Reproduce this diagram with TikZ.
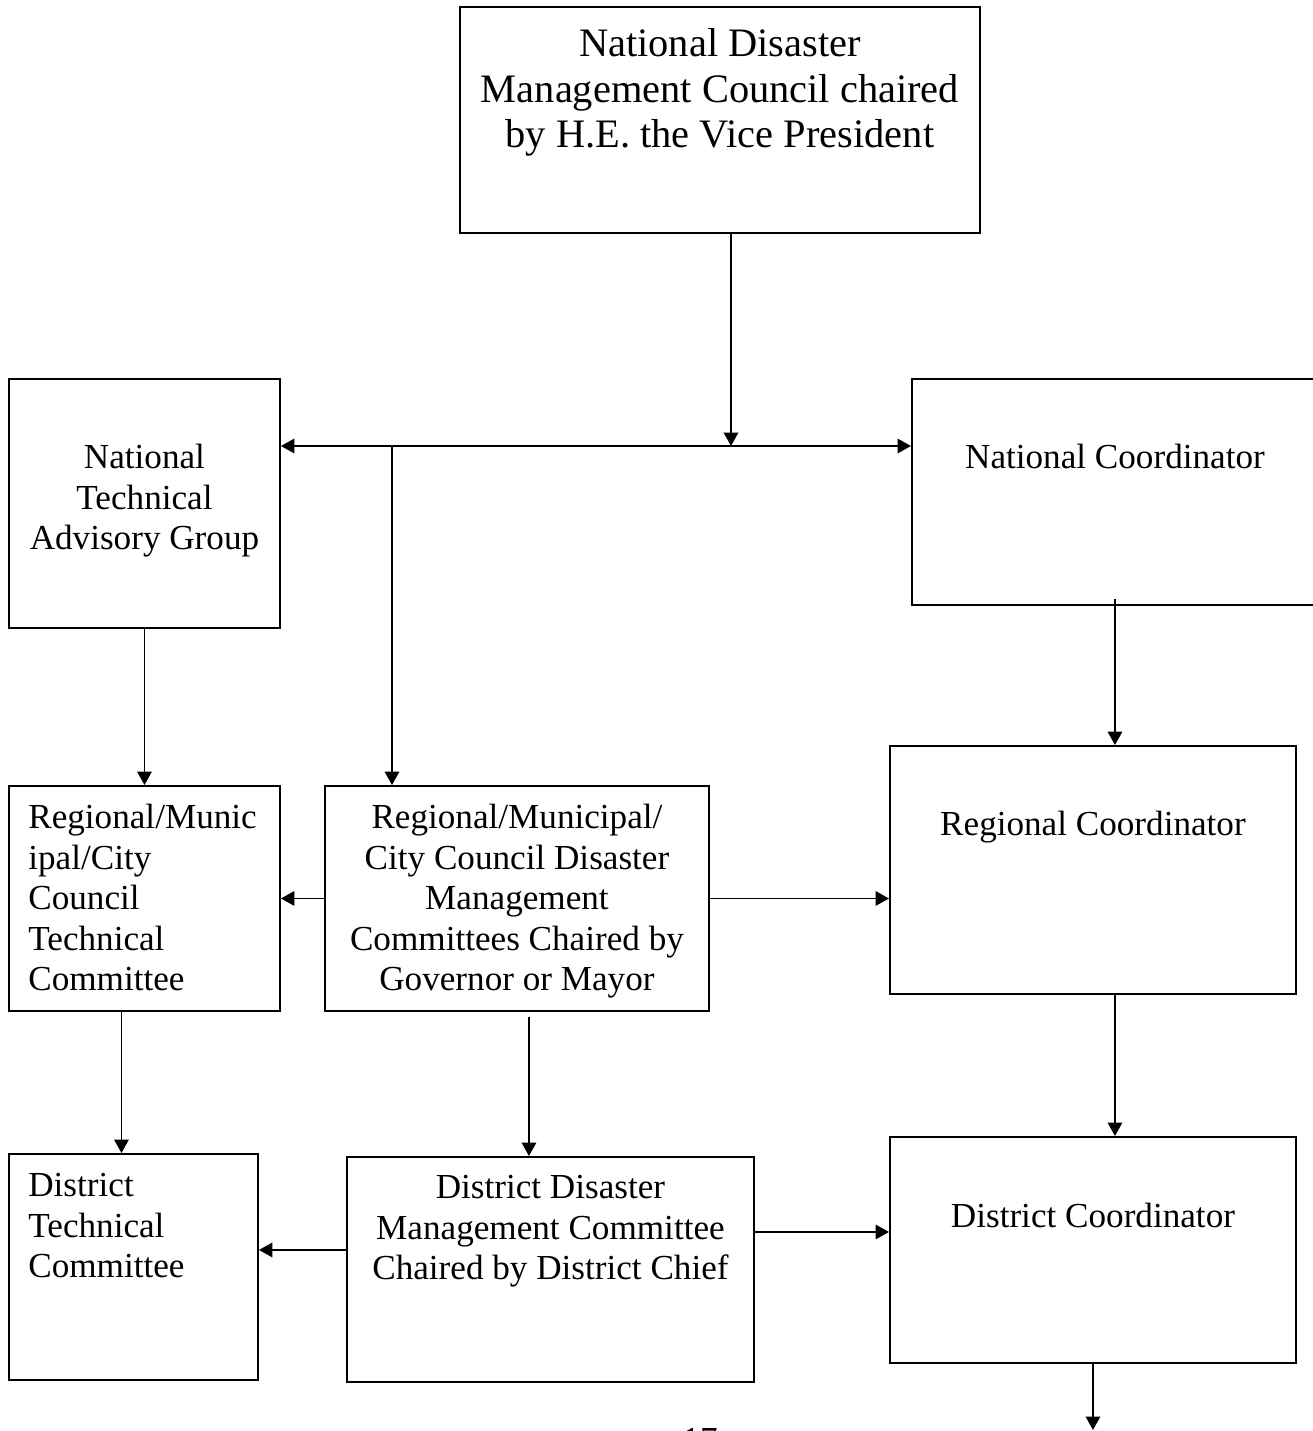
\documentclass[tikz,border=0pt]{standalone}
\usepackage{fontspec}
\setmainfont{Liberation Serif}
\usetikzlibrary{arrows.meta,positioning}
\tikzset{
  unit/.style={draw=black,line width=1.1pt,inner sep=0pt,anchor=north west},
  lbl/.style={inner sep=0pt,align=center,font=\fontsize{20}{23}\selectfont},
  lbltop/.style={inner sep=0pt,align=center,font=\fontsize{23}{26}\selectfont},
  lblleft/.style={inner sep=0pt,align=left,font=\fontsize{20}{23}\selectfont},
  flow/.style={-{Triangle[length=2.7mm,width=2.9mm]},draw=black,line width=1.1pt},
  twoway/.style={{Triangle[length=2.7mm,width=2.9mm]}-{Triangle[length=2.7mm,width=2.9mm]},draw=black,line width=1.1pt}
}
\begin{document}
\begin{tikzpicture}
  \useasboundingbox (0,0) rectangle (26.26,-28.62);
  % boxes
  \node[unit,minimum width=10.4cm,minimum height=4.52cm] (council) at (9.18,-0.12) {};
  \node[unit,minimum width=5.42cm,minimum height=4.98cm] (ntag) at (0.16,-7.56) {};
  \node[unit,minimum width=8.12cm,minimum height=4.52cm] (natc) at (18.22,-7.56) {};
  \node[unit,minimum width=5.42cm,minimum height=4.5cm] (rtc) at (0.16,-15.7) {};
  \node[unit,minimum width=7.68cm,minimum height=4.5cm] (rmc) at (6.48,-15.7) {};
  \node[unit,minimum width=8.12cm,minimum height=4.96cm] (rc) at (17.78,-14.9) {};
  \node[unit,minimum width=4.98cm,minimum height=4.52cm] (dtc) at (0.16,-23.06) {};
  \node[unit,minimum width=8.14cm,minimum height=4.5cm] (ddmc) at (6.92,-23.12) {};
  \node[unit,minimum width=8.12cm,minimum height=4.52cm] (dc) at (17.78,-22.72) {};
  % texts
  \node[lbltop,below=0.44cm of council.north] (council-t) {National Disaster\\Management Council chaired\\by H.E. the Vice President};
  \node[lbl,below=1.32cm of ntag.north] (ntag-t) {National\\Technical\\Advisory Group};
  \node[lbl,below=1.32cm of natc.north] (natc-t) {National Coordinator};
  \node[lblleft,below right=0.38cm and 0.4cm of rtc.north west] (rtc-t) {Regional/Munic\\ipal/City\\Council\\Technical\\Committee};
  \node[lbl,below=0.38cm of rmc.north] (rmc-t) {Regional/Municipal/\\City Council Disaster\\Management\\Committees Chaired by\\Governor or Mayor};
  \node[lbl,below=1.32cm of rc.north] (rc-t) {Regional Coordinator};
  \node[lblleft,below right=0.4cm and 0.4cm of dtc.north west] (dtc-t) {District\\Technical\\Committee};
  \node[lbl,below=0.38cm of ddmc.north] (ddmc-t) {District Disaster\\Management Committee\\Chaired by District Chief};
  \node[lbl,below=1.34cm of dc.north] (dc-t) {District Coordinator};
  \node[lbl,anchor=north] (page) at (14.0,-28.56) {17};
  % connectors
  \coordinate (hub) at (14.62,-8.92);
  \coordinate (split) at (7.84,-8.92);
  \coordinate (out) at (21.84,-28.6);
  \draw[flow] (council.south -| hub) -- (hub);
  \draw[twoway] (ntag.east |- hub) -- (natc.west |- hub);
  \draw[flow] (split) -- (split |- rmc.north);
  \draw[flow] (ntag.south) -- (rtc.north);
  \draw[flow] ([yshift=0.14cm]natc.south) -- (natc.south |- rc.north);
  \draw[flow] (rmc.west) -- (rtc.east);
  \draw[flow] (rmc.east) -- (rmc.east -| rc.west);
  \draw[flow] ([xshift=-0.46cm]rtc.south) -- ([xshift=-0.46cm]rtc.south |- dtc.north);
  \draw[flow] ([xshift=0.24cm,yshift=-0.1cm]rmc.south) -- ([xshift=0.24cm]rmc.south |- ddmc.north);
  \draw[flow] ([xshift=0.44cm]rc.south) -- ([xshift=0.44cm]rc.south |- dc.north);
  \draw[flow] ([yshift=0.39cm]ddmc.west) -- ([yshift=0.39cm]ddmc.west -| dtc.east);
  \draw[flow] ([yshift=0.75cm]ddmc.east) -- ([yshift=0.75cm]ddmc.east -| dc.west);
  \draw[flow] (dc.south) -- (dc.south |- out);
\end{tikzpicture}
\end{document}
